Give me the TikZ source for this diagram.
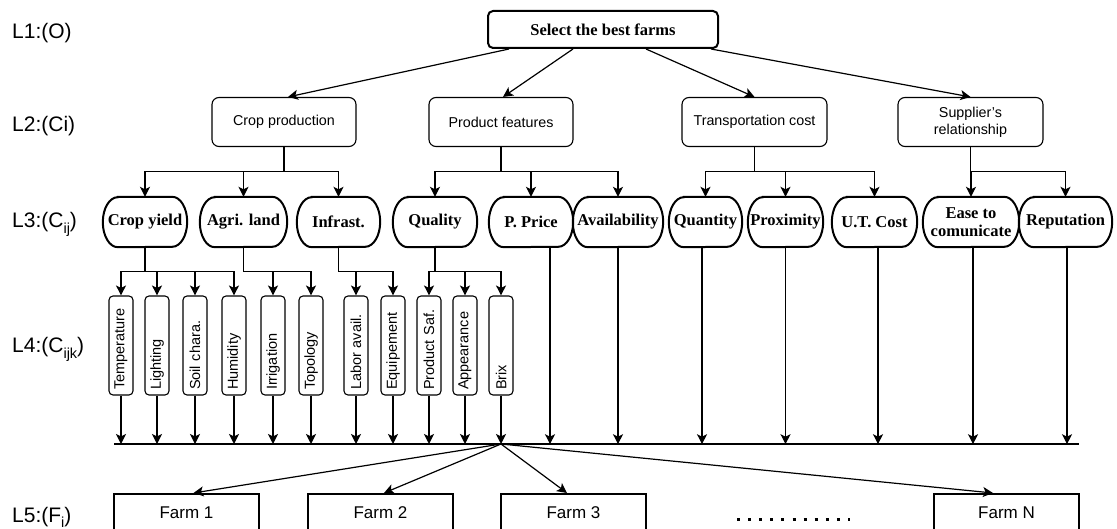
\documentclass[tikz,border=0pt]{standalone}
\usepackage{fontspec}
\setmainfont{Liberation Sans}
\newfontfamily\timesfont{Liberation Serif}
\usetikzlibrary{arrows.meta,calc}

% lowered index in the level labels
\newcommand\lowidx[1]{\raisebox{-0.28em}{\fontsize{14.5}{14.5}\selectfont #1}}

\begin{document}
\begin{tikzpicture}[x=1pt,y=-1pt,
  every node/.style={inner sep=0pt},
  level/.style={anchor=base west, font=\fontsize{21}{23}\selectfont},
  goal/.style={draw, line width=2pt, rounded corners=5pt, minimum width=230pt,
    minimum height=37pt, font=\timesfont\bfseries\fontsize{16.5}{18}\selectfont},
  crit/.style={draw, line width=1.1pt, rounded corners=7pt, minimum height=49pt,
    align=center, font=\fontsize{14.3}{17}\selectfont},
  % stadium with elliptic ends
  subcrit/.style={minimum height=50pt, align=center,
    font=\timesfont\bfseries\fontsize{16.5}{18.5}\selectfont,
    append after command={\pgfextra{%
      \draw[line width=2pt] ([xshift=15pt]\tikzlastnode.north west)
        -- ([xshift=-15pt]\tikzlastnode.north east)
        arc[start angle=90, end angle=-90, x radius=15pt, y radius=25pt]
        -- ([xshift=15pt]\tikzlastnode.south west)
        arc[start angle=-90, end angle=-270, x radius=15pt, y radius=25pt]
        -- cycle;}}},
  leaf/.style={draw, line width=1.1pt, rounded corners=4pt, rotate=90,
    minimum height=24pt, text width=89pt, inner xsep=5pt, align=left,
    font=\fontsize{14.5}{16}\selectfont},
  farm/.style={draw, line width=2pt, minimum width=145pt, minimum height=38pt,
    font=\fontsize{17}{19}\selectfont},
  link/.style={line width=1.2pt},
  arr/.style={link, -{Stealth[length=10pt,width=10pt,inset=2.5pt]}},
]
\useasboundingbox (0,0) rectangle (1117,529);

% level labels
\node[level] (l1) at (12,39) {L1:(O)};
\node[level] (l2) at (12,131.5) {L2:(Ci)};
\node[level] (l3) at (12,228) {L3:(C\lowidx{ij})};
\node[level] (l4) at (12,353) {L4:(C\lowidx{ijk})};
\node[level] (l5) at (12,522) {L5:(F\lowidx{i})};

% goal
\node[goal] (goal) at (603,29.5) {Select the best farms};

% criteria
\node[crit, minimum width=144pt] (cp) at (284,122) {Crop production};
\node[crit, minimum width=144pt] (pf) at (501,122) {Product features};
\node[crit, minimum width=145pt] (tc) at (754.5,122) {Transportation cost};
\node[crit, minimum width=145pt] (sr) at (970.5,122) {Supplier's\\relationship};

% sub-criteria
\node[subcrit, minimum width=84pt] (cy)  at (145,222)    {Crop yield};
\node[subcrit, minimum width=87pt] (al)  at (243.5,222)  {Agri. land};
\node[subcrit, minimum width=83pt] (inf) at (338.5,222)  {Infrast.};
\node[subcrit, minimum width=84pt] (ql)  at (435,222)    {Quality};
\node[subcrit, minimum width=84pt] (pp)  at (531,222)    {P. Price};
\node[subcrit, minimum width=90pt] (av)  at (618,222)    {Availability};
\node[subcrit, minimum width=73pt] (qt)  at (705.5,222)  {Quantity};
\node[subcrit, minimum width=75pt] (px)  at (785.5,222)  {Proximity};
\node[subcrit, minimum width=85pt] (ut)  at (874.5,222)  {U.T. Cost};
\node[subcrit, minimum width=96pt] (ec)  at (971,222)    {Ease to\\comunicate};
\node[subcrit, minimum width=93pt] (rp)  at (1065.5,222) {Reputation};

% sub-sub-criteria
\node[leaf] (t1)  at (121,345.5) {Temperature};
\node[leaf] (t2)  at (157,345.5) {Lighting};
\node[leaf] (t3)  at (195,345.5) {Soil chara.};
\node[leaf] (t4)  at (234,345.5) {Humidity};
\node[leaf] (t5)  at (273,345.5) {Irrigation};
\node[leaf] (t6)  at (311,345.5) {Topology};
\node[leaf] (t7)  at (356,345.5) {Labor avail.};
\node[leaf] (t8)  at (393,345.5) {Equipement};
\node[leaf] (t9)  at (429,345.5) {Product Saf.};
\node[leaf] (t10) at (465,345.5) {Appearance};
\node[leaf] (t11) at (501,345.5) {Brix};

% alternatives
\node[farm] (f1) at (186.5,513) {Farm 1};
\node[farm] (f2) at (380.5,513) {Farm 2};
\node[farm] (f3) at (573.5,513) {Farm 3};
\node[farm] (fn) at (1006.5,513) {Farm N};
\draw[line width=3pt, dash pattern=on 3pt off 8.1pt] (737,519) -- (850,519);

% collecting bus
\coordinate (busL) at (114,444);
\coordinate (busR) at (1079,444);
\coordinate (hub) at (501,444);
\draw[line width=2.2pt] (busL) -- (busR);

% goal to criteria
\draw[arr] ([xshift=22pt]goal.south west) -- ([xshift=4pt]cp.north);
\draw[arr] ([xshift=86pt]goal.south west) -- ([xshift=2pt]pf.north);
\draw[arr] ([xshift=159pt]goal.south west) -- (tc.north);
\draw[arr] ([xshift=-8pt]goal.south east) -- (sr.north);

% criteria to sub-criteria
\foreach \c in {cy,al,inf} \draw[arr] (cp.south) -- ++(0,24.5) -| (\c.north);
\foreach \c in {ql,pp,av} \draw[arr] (pf.south) -- ++(0,24.5) -| (\c.north);
\foreach \c in {qt,px,ut} \draw[arr] (tc.south) -- ++(0,24.5) -| (\c.north);
\foreach \c in {ec,rp} \draw[arr] (sr.south) -- ++(0,24.5) -| (\c.north);

% sub-criteria to sub-sub-criteria
\foreach \c in {t1,t2,t3,t4} \draw[arr] (cy.south) -- ++(0,24) -| (\c.east);
\foreach \c in {t5,t6} \draw[arr] (al.south) -- ++(0,24) -| (\c.east);
\foreach \c in {t7,t8} \draw[arr] (inf.south) -- ++(0,24) -| (\c.east);
\foreach \c in {t9,t10,t11} \draw[arr] (ql.south) -- ++(0,24) -| (\c.east);

% everything down to the bus
\foreach \c in {t1,t2,t3,t4,t5,t6,t7,t8,t9,t10,t11}
  \draw[arr] (\c.west) -- (\c.west |- busL);
\draw[arr] ([xshift=19pt]pp.south) -- ++(0,197);
\draw[arr] (av.south) -- ++(0,197);
\draw[arr] ([xshift=-3.5pt]qt.south) -- ++(0,197);
\draw[arr] (px.south) -- ++(0,197);
\draw[arr] ([xshift=3.5pt]ut.south) -- ++(0,197);
\draw[arr] ([xshift=2pt]ec.south) -- ++(0,197);
\draw[arr] ([xshift=1.5pt]rp.south) -- ++(0,197);

% bus to farms
\draw[arr] (hub) -- ([xshift=7pt]f1.north);
\draw[arr] (hub) -- ([xshift=3.5pt]f2.north);
\draw[arr] (hub) -- ([xshift=-6.5pt]f3.north);
\draw[arr] (hub) -- ([xshift=-13.5pt]fn.north);
\end{tikzpicture}
\end{document}
